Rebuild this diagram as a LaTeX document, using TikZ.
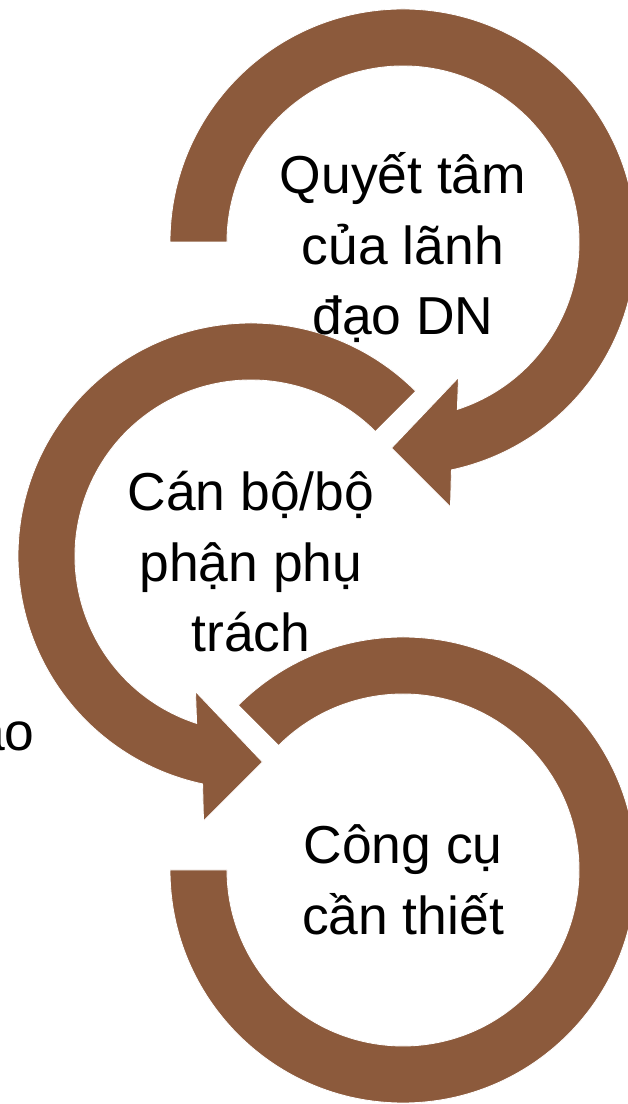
\documentclass[tikz,border=0pt]{standalone}
\usepackage{fontspec}
\setmainfont{Liberation Sans}
\usetikzlibrary{positioning}
\definecolor{cabrown}{HTML}{8C5A3C}
\tikzset{
  band/.style={fill=cabrown, draw=white, line width=0.6pt},
  circtext/.style={align=center, text=black, inner sep=0pt, font=\fontsize{38}{50}\selectfont}
}

\begin{document}
\begin{tikzpicture}[x=0.025cm,y=0.025cm]
\useasboundingbox (0,0) rectangle (628,1104);
\clip (0,0) rectangle (628,1104);
\coordinate (C1) at (403,862);
\coordinate (C2) at (251,548);
\coordinate (C3) at (403,234);
% top ring, clockwise, head at the bottom
\begin{scope}[shift={(C1)}]
\fill[band] (180:233) arc[start angle=180, end angle=-78, radius=233]
  -- (47.5,-265) -- (-11.5,-206) -- (55.5,-135.5)
  -- (-72:176) arc[start angle=-72, end angle=180, radius=176] -- cycle;
\end{scope}
% middle ring, counter-clockwise
\begin{scope}[shift={(C2)}]
\fill[band] (45:233) arc[start angle=45, end angle=258, radius=233]
  -- (-47.5,-265) -- (11.5,-206) -- (-55.5,-135.5)
  -- (252:176) arc[start angle=252, end angle=45, radius=176] -- cycle;
\end{scope}
% bottom ring, no head
\begin{scope}[shift={(C3)}]
\fill[band] (180:233) arc[start angle=180, end angle=495, radius=233]
  -- (135:176) arc[start angle=495, end angle=180, radius=176] -- cycle;
\end{scope}
\node[circtext] (quyettam) at ([yshift=-4]C1) {Quyết tâm\\của lãnh\\đạo DN};
\node[circtext] (canbo) at ([yshift=-4]C2) {Cán bộ/bộ\\phận phụ\\trách};
\node[circtext] (congcu) at ([yshift=-7]C3) {Công cụ\\cần thiết};
\node[circtext, anchor=base east] (cutoff) at (35,353) {ao};
\end{tikzpicture}
\end{document}
